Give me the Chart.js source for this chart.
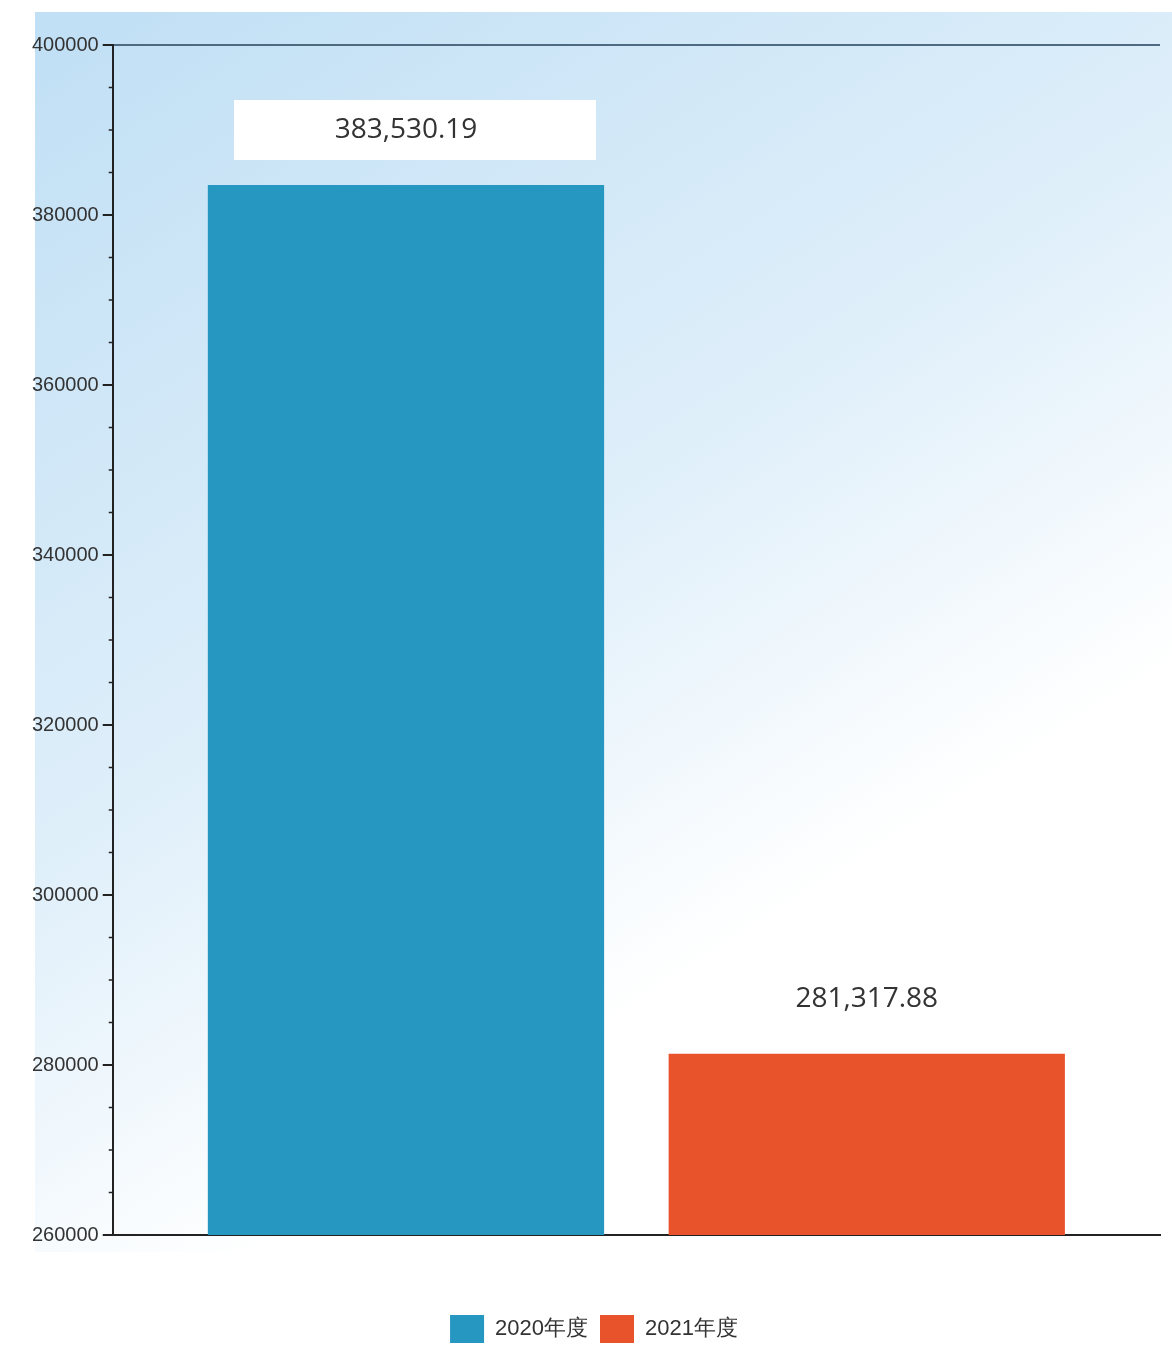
<!DOCTYPE html>
<html>
<head>
<meta charset="utf-8">
<script src="https://cdn.jsdelivr.net/npm/chart.js@4/dist/chart.umd.min.js"></script>
<style>
  body { margin: 0; background: #fff; }
  #wrap { width: 1172px; height: 1353px; position: relative; }
</style>
</head>
<body>
<div id="wrap"><canvas id="chart"></canvas></div>
<script>
// data
const categories = [""];
const seriesNames = ["2020年度", "2021年度"];
const seriesValues = [383530.19, 281317.88];
const seriesColors = ["#2597c1", "#e9532c"];
const yTicks = [260000, 280000, 300000, 320000, 340000, 360000, 380000, 400000];

const axisFont = "'Liberation Sans', Arial, sans-serif";

// light blue wash behind the plot
const bgPlugin = {
    id: 'bg',
    beforeDraw(chart) {
        const c = chart.ctx;
        const g = c.createLinearGradient(150, 0, 950, 1250);
        g.addColorStop(0, '#c2e0f5');
        g.addColorStop(0.45, '#dfeffa');
        g.addColorStop(0.75, '#ffffff');
        c.save();
        c.fillStyle = g;
        c.fillRect(35, 12, chart.width - 35, 1240);
        c.restore();
    }
};

// minor ticks every 5000 on the y axis
const minorTicks = {
    id: 'minorTicks',
    afterDraw(chart) {
        const y = chart.scales.y;
        const c = chart.ctx;
        c.save();
        c.strokeStyle = '#222';
        c.lineWidth = 1.5;
        for (let v = yTicks[0]; v <= yTicks[yTicks.length - 1]; v += 5000) {
            if (v % 20000 === 0) continue;
            const py = y.getPixelForValue(v);
            c.beginPath();
            c.moveTo(y.right - 4, py);
            c.lineTo(y.right, py);
            c.stroke();
        }
        c.restore();
    }
};

// value labels above bars
const valueLabels = {
    id: 'valueLabels',
    afterDatasetsDraw(chart) {
        const c = chart.ctx;
        c.save();
        chart.data.datasets.forEach((ds, i) => {
            const bar = chart.getDatasetMeta(i).data[0];
            const text = ds.data[0].toLocaleString('en-US', { minimumFractionDigits: 2 });
            if (i === 0) {
                c.fillStyle = '#ffffff';
                c.fillRect(bar.x - 172, bar.y - 85, 362, 60);
            }
            c.fillStyle = '#333';
            c.font = "28px 'Open Sans', sans-serif";
            c.textAlign = 'center';
            c.textBaseline = 'middle';
            c.fillText(text, bar.x, bar.y - 55);
        });
        c.restore();
    }
};

new Chart(document.getElementById('chart'), {
    type: 'bar',
    data: {
        labels: categories,
        datasets: seriesNames.map((name, i) => ({
            label: name,
            data: [seriesValues[i]],
            backgroundColor: seriesColors[i],
            categoryPercentage: 0.88,
            barPercentage: 0.86
        }))
    },
    options: {
        responsive: true,
        maintainAspectRatio: false,
        animation: false,
        layout: { padding: { top: 45, left: 28, right: 12, bottom: 0 } },
        plugins: {
            legend: {
                position: 'bottom',
                labels: {
                    boxWidth: 34,
                    boxHeight: 28,
                    padding: 12,
                    color: '#333',
                    font: { family: axisFont, size: 22 }
                }
            },
            tooltip: { enabled: false }
        },
        scales: {
            x: {
                ticks: { display: false },
                grid: { display: false },
                border: { color: '#222', width: 2 },
                afterFit: axis => { axis.height = 68; }
            },
            y: {
                min: yTicks[0],
                max: yTicks[yTicks.length - 1],
                afterBuildTicks: axis => { axis.ticks = yTicks.map(v => ({ value: v })); },
                ticks: {
                    color: '#333',
                    padding: 4,
                    font: { family: axisFont, size: 20 },
                    callback: v => String(v)
                },
                grid: {
                    drawOnChartArea: true,
                    tickLength: 10,
                    tickColor: '#222',
                    color: ctx => ctx.tick && ctx.tick.value === 400000 ? '#4d6a80' : 'rgba(0,0,0,0)',
                    lineWidth: 2
                },
                border: { color: '#222', width: 2 }
            }
        }
    },
    plugins: [bgPlugin, minorTicks, valueLabels]
});
</script>
</body>
</html>
